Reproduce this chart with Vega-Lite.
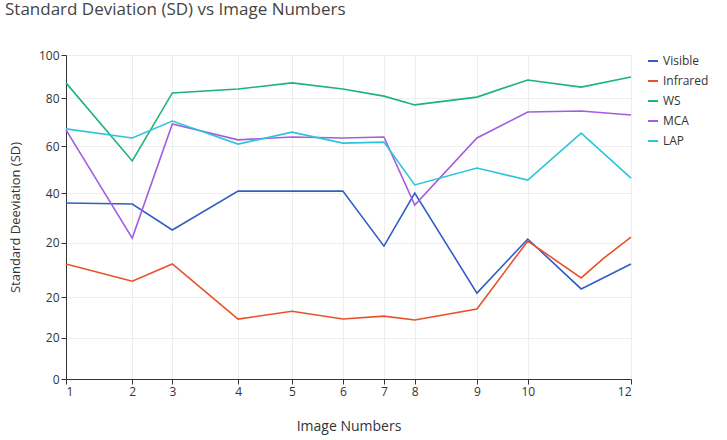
{
"$schema":"https://vega.github.io/schema/vega-lite/v6.json",
"width":565,"height":324,
"autosize":"none",
"padding":{"left":66,"top":55,"right":96,"bottom":61},
"background":"white",
"title":{"text":"Standard Deviation (SD) vs Image Numbers","anchor":"start","frame":"group","dx":-61,"offset":30,"fontSize":17,"fontWeight":"normal","color":"#444","font":"Open Sans"},
"config":{"font":"Open Sans","view":{"stroke":null}},
"data":{"values":[
{"x":1,"s":"Visible","v":54.3},{"x":2.29,"s":"Visible","v":54.0},{"x":3.07,"s":"Visible","v":46.0},{"x":4.35,"s":"Visible","v":58.0},{"x":5.40,"s":"Visible","v":58.0},{"x":6.39,"s":"Visible","v":58.0},{"x":7.19,"s":"Visible","v":41.0},{"x":7.79,"s":"Visible","v":57.4},{"x":9.0,"s":"Visible","v":26.5},{"x":9.99,"s":"Visible","v":43.2},{"x":11.03,"s":"Visible","v":27.8},{"x":12,"s":"Visible","v":35.5},
{"x":1,"s":"Infrared","v":35.5},{"x":2.29,"s":"Infrared","v":30.2},{"x":3.07,"s":"Infrared","v":35.5},{"x":4.35,"s":"Infrared","v":18.5},{"x":5.40,"s":"Infrared","v":20.9},{"x":6.39,"s":"Infrared","v":18.5},{"x":7.19,"s":"Infrared","v":19.4},{"x":7.79,"s":"Infrared","v":18.2},{"x":9.0,"s":"Infrared","v":21.6},{"x":9.99,"s":"Infrared","v":42.6},{"x":11.03,"s":"Infrared","v":31.2},{"x":11.47,"s":"Infrared","v":37.3},{"x":12,"s":"Infrared","v":43.8},
{"x":1,"s":"WS","v":91.4},{"x":2.29,"s":"WS","v":67.3},{"x":3.07,"s":"WS","v":88.3},{"x":4.35,"s":"WS","v":89.5},{"x":5.40,"s":"WS","v":91.4},{"x":6.39,"s":"WS","v":89.5},{"x":7.19,"s":"WS","v":87.3},{"x":7.79,"s":"WS","v":84.6},{"x":9.0,"s":"WS","v":87.0},{"x":9.99,"s":"WS","v":92.3},{"x":11.03,"s":"WS","v":90.1},{"x":12,"s":"WS","v":93.2},
{"x":1,"s":"MCA","v":76.9},{"x":2.29,"s":"MCA","v":43.5},{"x":3.07,"s":"MCA","v":78.7},{"x":4.35,"s":"MCA","v":73.8},{"x":5.40,"s":"MCA","v":74.7},{"x":6.39,"s":"MCA","v":74.4},{"x":7.19,"s":"MCA","v":74.7},{"x":7.79,"s":"MCA","v":53.7},{"x":9.0,"s":"MCA","v":74.4},{"x":9.99,"s":"MCA","v":82.4},{"x":11.03,"s":"MCA","v":82.7},{"x":12,"s":"MCA","v":81.5},
{"x":1,"s":"LAP","v":77.2},{"x":2.29,"s":"LAP","v":74.4},{"x":3.07,"s":"LAP","v":79.6},{"x":4.35,"s":"LAP","v":72.5},{"x":5.40,"s":"LAP","v":76.2},{"x":6.39,"s":"LAP","v":72.8},{"x":7.19,"s":"LAP","v":73.1},{"x":7.79,"s":"LAP","v":59.9},{"x":9.0,"s":"LAP","v":65.1},{"x":9.99,"s":"LAP","v":61.4},{"x":11.03,"s":"LAP","v":75.9},{"x":12,"s":"LAP","v":62.0}
]},
"mark":{"type":"line","strokeWidth":1.6},
"encoding":{
"x":{"field":"x","type":"quantitative","scale":{"domain":[1,12],"nice":false,"zero":false},"title":"Image Numbers",
"axis":{"values":[1,2.29,3.07,4.35,5.40,6.39,7.19,7.79,9.0,9.99,12],"labelExpr":"{'1':'1','2.29':'2','3.07':'3','4.35':'4','5.4':'5','6.39':'6','7.19':'7','7.79':'8','9':'9','9.99':'10','12':'12'}[datum.value+'']","labelColor":"#333","labelFontSize":12,"titleFontSize":14,"titleFontWeight":"normal","titleColor":"#333","titlePadding":22,"grid":true,"gridColor":"#eee","domainColor":"#333","tickColor":"#333"}},
"y":{"field":"v","type":"quantitative","scale":{"domain":[0,100],"nice":false},"title":"Standard Deeviation (SD)",
"axis":{"values":[0,12.7,25.3,42,57.4,71.9,86.7,100],"labelExpr":"{'0':'0','12.7':'20','25.3':'20','42':'20','57.4':'40','71.9':'60','86.7':'80','100':'100'}[datum.value+'']","labelColor":"#333","labelFontSize":12,"titleFontSize":13,"titleFontWeight":"normal","titleColor":"#333","titlePadding":16,"grid":true,"gridColor":"#eee","domainColor":"#333","tickColor":"#333"}},
"color":{"field":"s","type":"nominal","sort":["Visible","Infrared","WS","MCA","LAP"],
"scale":{"domain":["Visible","Infrared","WS","MCA","LAP"],"range":["#2f5fc4","#e8522a","#1db37a","#a15ee0","#2ec4dc"]},
"legend":{"title":null,"orient":"right","offset":12,"labelFontSize":12,"labelColor":"#333","symbolType":"stroke","symbolStrokeWidth":2,"rowPadding":8}}
}
}
